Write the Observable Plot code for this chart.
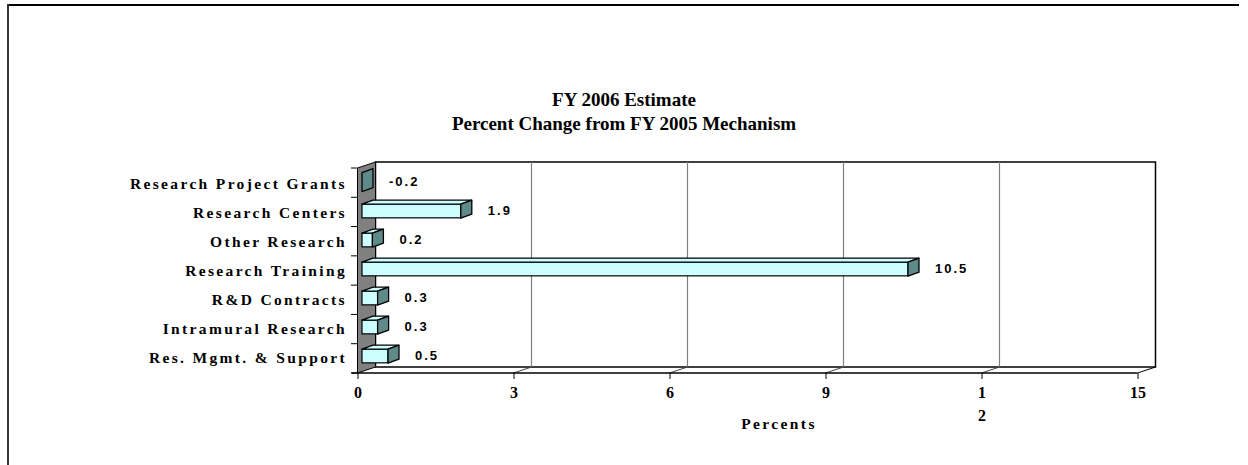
<!DOCTYPE html>
<html>
<head>
<meta charset="utf-8">
<script src="https://cdn.jsdelivr.net/npm/d3@7"></script>
<script src="https://cdn.jsdelivr.net/npm/@observablehq/plot@0.6"></script>
<style>
  html, body { margin: 0; padding: 0; background: #fff; }
  #wrap { position: relative; width: 1248px; height: 465px; overflow: hidden; background: #fff; }
  #borderTop { position: absolute; left: 7px; top: 4px; width: 1232px; height: 2px; background: #000; }
  #borderLeft { position: absolute; left: 7px; top: 4px; width: 2px; height: 461px; background: #333; }
  #title { position: absolute; left: 0; top: 88px; width: 1248px; text-align: center;
           font: bold 19px "Liberation Serif", "Times New Roman", serif; line-height: 24px; color: #000; }
  #chart { position: absolute; left: 0; top: 0; }
  #chart svg { overflow: visible; }
  g[aria-label="y-axis tick label"] text { letter-spacing: 2.35px; }
</style>
</head>
<body>
<div id="wrap">
  <div id="borderTop"></div>
  <div id="borderLeft"></div>
  <div id="title">FY 2006 Estimate<br>Percent Change from FY 2005 Mechanism</div>
  <div id="chart"></div>
</div>
<script>
// ---- data ----
const categories = [
  "Research Project Grants",
  "Research Centers",
  "Other Research",
  "Research Training",
  "R&D Contracts",
  "Intramural Research",
  "Res. Mgmt. & Support"
];
const values = [-0.2, 1.9, 0.2, 10.5, 0.3, 0.3, 0.5];
const valueLabels = ["-0.2", "1.9", "0.2", "10.5", "0.3", "0.3", "0.5"];
const xTicks = [0, 3, 6, 9, 12, 15];
const xTickLabels = ["0", "3", "6", "9", "1\n2", "15"];
const xTitle = "Percents";

// ---- styling constants ----
const FRONT = "#CCFFFF", SIDE = "#5F8A8A", WALL = "#808080", GRID = "#808080";
const DEPTH = [18, -6];        // back-plane offset (px)
const BAR_OFF = [4.5, -1.5];   // bar front offset inside depth (px)
const BAR_D = [11, -4];        // bar depth (px)
const BAR_H = 14;              // bar thickness (px)

const rows = categories.map((c, i) => ({
  category: c,
  value: values[i],
  shown: Math.max(values[i], 0),
  label: valueLabels[i]
}));
const tickLabelOf = new Map(xTicks.map((t, i) => [t, xTickLabels[i]]));

function pts(a) { return a.map(p => p.join(",")).join(" "); }

// 3D scene (walls, floor, grid) drawn through Plot's own scales
function scene(index, scales, channels, dims) {
  const {x} = scales;
  const top = dims.marginTop, bottom = dims.height - dims.marginBottom;
  const n = categories.length;
  const step = (bottom - top) / n;
  const [dx, dy] = DEPTH;
  const x0 = x(xTicks[0]), x1 = x(xTicks[xTicks.length - 1]);
  const g = d3.create("svg:g");
  g.append("polygon")
    .attr("points", pts([[x0 + dx, top + dy], [x1 + dx, top + dy], [x1 + dx, bottom + dy], [x0 + dx, bottom + dy]]))
    .attr("fill", "#fff").attr("stroke", "#000").attr("stroke-width", 1.5);
  for (const t of xTicks.slice(1, -1)) {
    g.append("line")
      .attr("x1", x(t) + dx).attr("x2", x(t) + dx)
      .attr("y1", top + dy).attr("y2", bottom + dy)
      .attr("stroke", GRID).attr("stroke-width", 1.2);
  }
  for (const t of xTicks.slice(1)) {
    g.append("line")
      .attr("x1", x(t)).attr("y1", bottom)
      .attr("x2", x(t) + dx).attr("y2", bottom + dy)
      .attr("stroke", t === xTicks[xTicks.length - 1] ? "#000" : "#444").attr("stroke-width", 1);
  }
  g.append("line")
    .attr("x1", x0 - 6).attr("x2", x1).attr("y1", bottom).attr("y2", bottom)
    .attr("stroke", "#000").attr("stroke-width", 1.5);
  g.append("polygon")
    .attr("points", pts([[x0, top], [x0 + dx, top + dy], [x0 + dx, bottom + dy], [x0, bottom]]))
    .attr("fill", WALL).attr("stroke", "#000").attr("stroke-width", 1);
  for (let i = 0; i <= n; i++) {
    const yy = top + i * step;
    g.append("line")
      .attr("x1", x0 - 6.5).attr("x2", x0).attr("y1", yy).attr("y2", yy)
      .attr("stroke", "#000").attr("stroke-width", 1);
  }
  return g.node();
}

// bar top and end faces through Plot's scales
function barFaces(index, scales, channels, dims) {
  const {x, y} = scales;
  const top = dims.marginTop, bottom = dims.height - dims.marginBottom;
  const step = (bottom - top) / categories.length;
  const g = d3.create("svg:g");
  for (const r of rows) {
    const yc = y(r.category) + step / 2 + BAR_OFF[1];
    const yt = yc - BAR_H / 2, yb = yc + BAR_H / 2;
    const xa = x(0) + BAR_OFF[0], xb = x(r.shown) + BAR_OFF[0];
    const [bx, by] = BAR_D;
    const ey = r.value < 0 ? 2.5 : 0;  // end face of the negative bar, seen head-on
    if (xb > xa) {
      g.append("polygon")
        .attr("points", pts([[xa, yt], [xb, yt], [xb + bx, yt + by], [xa + bx, yt + by]]))
        .attr("fill", FRONT).attr("stroke", "#000").attr("stroke-width", 1.2).attr("stroke-linejoin", "round");
    }
    g.append("polygon")
      .attr("points", pts([[xb, yt - ey], [xb + bx, yt + by - ey], [xb + bx, yb + by + ey], [xb, yb + ey]]))
      .attr("fill", SIDE).attr("stroke", "#000").attr("stroke-width", 1.3).attr("stroke-linejoin", "round");
  }
  return g.node();
}

const plot = Plot.plot({
  width: 1248,
  height: 465,
  marginLeft: 357.5,
  marginRight: 110.5,
  marginTop: 168,
  marginBottom: 92,
  style: {background: "transparent", color: "#000"},
  x: {domain: [xTicks[0], xTicks[xTicks.length - 1]]},
  y: {domain: categories, padding: 0},
  marks: [
    scene,
    Plot.axisX({
      ticks: xTicks,
      tickFormat: d => tickLabelOf.get(d),
      tickSize: 6,
      tickPadding: 2,
      label: null,
      fontFamily: "Liberation Serif",
      fontWeight: "bold",
      fontSize: 16,
      lineHeight: 1.44
    }),
    Plot.axisY({
      tickSize: 0,
      tickPadding: 11,
      label: null,
      fontFamily: "Liberation Serif",
      fontWeight: "bold",
      fontSize: 15.5
    }),
    Plot.barX(rows.filter(r => r.shown > 0), {
      x1: 0, x2: "shown", y: "category",
      dx: BAR_OFF[0], dy: BAR_OFF[1],
      insetTop: (29.3 - BAR_H) / 2, insetBottom: (29.3 - BAR_H) / 2,
      fill: FRONT, stroke: "#000", strokeWidth: 1.2
    }),
    barFaces,
    Plot.text(rows, {
      x: "shown", y: "category", text: "label",
      dx: 31, dy: -2, textAnchor: "start",
      fontFamily: "Liberation Sans", fontWeight: "bold", fontSize: 13
    }),
    Plot.text([xTitle], {
      frameAnchor: "bottom", dx: 31, dy: 55,
      text: d => d,
      fontFamily: "Liberation Serif", fontWeight: "bold", fontSize: 15.5
    })
  ]
});
// letter spacing for the value labels and the axis title
const labelSet = new Set(valueLabels);
d3.select(plot).selectAll("text").each(function () {
  const t = this.textContent;
  if (this.closest('g[aria-label="y-axis tick label"]') || this.closest('g[aria-label="x-axis tick label"]')) return;
  if (labelSet.has(t)) this.style.letterSpacing = "2px";
  else if (t === xTitle) this.style.letterSpacing = "2.4px";
});
document.getElementById("chart").appendChild(plot);
</script>
</body>
</html>
